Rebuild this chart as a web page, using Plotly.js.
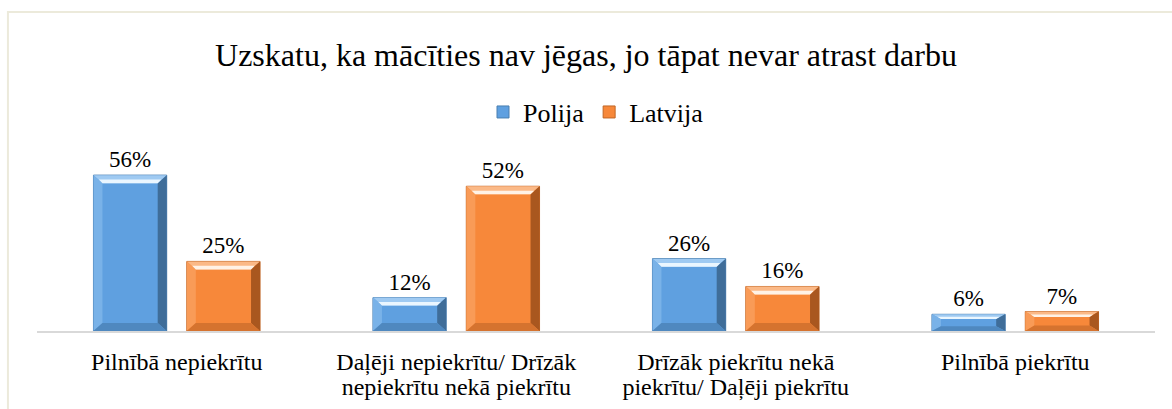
<!DOCTYPE html>
<html>
<head>
<meta charset="utf-8">
<script src="https://cdn.plot.ly/plotly-3.0.1.min.js"></script>
<style>
html,body{margin:0;padding:0;background:#fff;}
#chart{width:1172px;height:409px;}
</style>
</head>
<body>
<div id="chart"></div>
<script>
var categories = [
  "Pilnībā nepiekrītu",
  "Daļēji nepiekrītu/ Drīzāk<br>nepiekrītu nekā piekrītu",
  "Drīzāk piekrītu nekā<br>piekrītu/ Daļēji piekrītu",
  "Pilnībā piekrītu"
];
var polija = [56, 12, 26, 6];
var latvija = [25, 52, 16, 7];
var seriesNames = ["Polija", "Latvija"];

var font = "Liberation Serif";
var BW = 0.262;
var OFFS = [-0.298, 0.036];
var palettes = [
  {main: "#5fa0e0", line: "#4a7fb0", top: "#9fcaf2", hi: "#eaf6ff", left: "#79b2e8", right: "#3f6d99", bottom: "#4f88bf"},
  {main: "#f7883a", line: "#c06626", top: "#fbb987", hi: "#fff2e6", left: "#f99b57", right: "#a9571f", bottom: "#d5732f"}
];

function pct(arr){ return arr.map(function(v){ return v + "%"; }); }

var series = [polija, latvija];
var traces = series.map(function(vals, t){
  return {
    type: "bar", name: seriesNames[t], x: categories, y: vals,
    width: BW, offset: OFFS[t],
    text: pct(vals), textposition: "outside", cliponaxis: false,
    textfont: {family: font, size: 23, color: "#000"},
    marker: {color: palettes[t].main, line: {color: palettes[t].line, width: 1}},
    hoverinfo: "none"
  };
});

// bevel decoration computed from the same data in axis coordinates
var pxX = 1 / 279.5, pxY = 60 / 167;
var shapes = [];
series.forEach(function(vals, t){
  var p = palettes[t];
  vals.forEach(function(v, i){
    var x0 = i + OFFS[t], x1 = x0 + BW;
    var bx = 9 * pxX;
    var by = Math.min(8 * pxY, v * 0.28);
    var xi0 = x0 + bx, xi1 = x1 - bx, yi0 = by, yi1 = v - by;
    function poly(pts, col){
      var d = "M" + pts.map(function(q){ return q[0] + "," + q[1]; }).join(" L") + " Z";
      shapes.push({type: "path", xref: "x", yref: "y", path: d, fillcolor: col, line: {width: 0}, layer: "above"});
    }
    poly([[x0, v], [x1, v], [xi1, yi1], [xi0, yi1]], p.top);
    poly([[x0, 0], [x0, v], [xi0, yi1], [xi0, yi0]], p.left);
    poly([[x1, 0], [x1, v], [xi1, yi1], [xi1, yi0]], p.right);
    poly([[x0, 0], [x1, 0], [xi1, yi0], [xi0, yi0]], p.bottom);
    var hb = by * 0.45;
    poly([[xi0 - bx * 0.4, yi1 + hb], [xi1 + bx * 0.4, yi1 + hb], [xi1, yi1], [xi0, yi1]], p.hi);
  });
});
shapes.push({type: "rect", xref: "paper", yref: "paper", x0: -0.026, x1: 1.2, y0: -1, y1: 1.91,
             line: {color: "#eceadb", width: 2}, fillcolor: "rgba(0,0,0,0)", layer: "below"});

var layout = {
  width: 1172, height: 409,
  margin: {l: 37, r: 17, t: 164, b: 78},
  paper_bgcolor: "#fff", plot_bgcolor: "#fff",
  font: {family: font, color: "#000"},
  title: {text: "Uzskatu, ka mācīties nav jēgas, jo tāpat nevar atrast darbu",
          font: {family: font, size: 32, color: "#000"},
          x: 0.5, xanchor: "center", y: 0.866, yanchor: "middle"},
  barmode: "group",
  showlegend: true,
  legend: {orientation: "h", x: 0.5, xanchor: "center", y: 1.311, yanchor: "middle",
           font: {family: font, size: 26, color: "#000"},
           itemwidth: 30, tracegroupgap: 0},
  xaxis: {type: "category", showline: true, linecolor: "#d9d9d9", linewidth: 2,
          ticks: "", ticklabelstandoff: 8,
          tickfont: {family: font, size: 24, color: "#000"},
          showgrid: false, zeroline: false, fixedrange: true, range: [-0.5, 3.5]},
  yaxis: {range: [0, 60], visible: false, showgrid: false, zeroline: false, fixedrange: true},
  shapes: shapes
};

Plotly.newPlot("chart", traces, layout, {displayModeBar: false, staticPlot: true}).then(function(gd){
  // tighten line spacing of two-line category labels to match the reference
  var tspans = gd.querySelectorAll(".xtick text tspan.line");
  tspans.forEach(function(ts){
    var dy = ts.getAttribute("dy");
    if (dy && parseFloat(dy) > 0) ts.setAttribute("dy", "1.06em");
  });
});
</script>
</body>
</html>
